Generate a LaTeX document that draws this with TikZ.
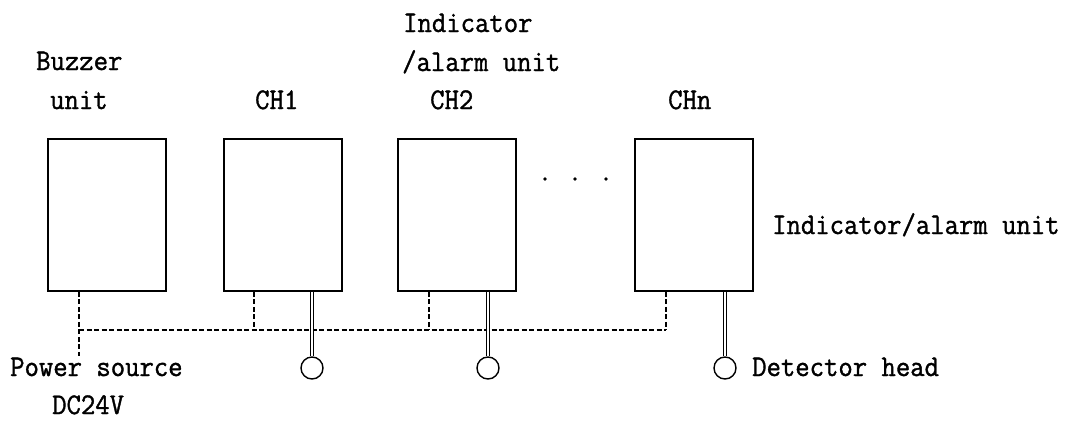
\documentclass[tikz,border=0pt]{standalone}
\usepackage{fontspec}
\newfontfamily\lblfont[FakeStretch=0.93,FakeBold=1.2]{Latin Modern Mono}
\begin{document}
\begin{tikzpicture}[x=1pt,y=-1pt,
  unitbox/.style={draw,line width=1.6pt,minimum width=118pt,minimum height=152pt,inner sep=0pt},
  lbl/.style={anchor=base west,inner sep=0pt,font=\lblfont\fontsize{30}{39}\selectfont},
  bus/.style={line width=1.4pt,dash pattern=on 5pt off 2.5pt},
  stem/.style={draw,line width=1pt,double=white,double distance=1.5pt},
  det/.style={draw,circle,line width=1.4pt,minimum size=22pt,inner sep=0pt}]
\useasboundingbox (0,0) rectangle (1070,421);
% boxes
\node[unitbox] (buz) at (107,215) {};
\node[unitbox] (ch1) at (283,215) {};
\node[unitbox] (ch2) at (457,215) {};
\node[unitbox] (chn) at (694,215) {};
% labels
\node[lbl] (lbuz1) at (36,70) {Buzzer};
\node[lbl] (lbuz2) at (50,109) {unit};
\node[lbl] (lind1) at (403,32) {Indicator};
\node[lbl] (lind2) at (402,71) {/alarm unit};
\node[lbl] (lch1) at (255,109) {CH1};
\node[lbl] (lch2) at (430,109) {CH2};
\node[lbl] (lchn) at (668,109) {CHn};
\node[lbl] (lind3) at (772,234) {Indicator/alarm unit};
% ellipsis
\fill (545,179) circle (1.8) (575,179) circle (1.8) (606,179) circle (1.8);
% bus
\coordinate (b0) at (79,330);
\coordinate (b1) at (254,330);
\coordinate (b2) at (429,330);
\coordinate (bn) at (666,330);
\coordinate (pwr) at (79,356);
\draw[bus] (buz.south -| b0) -- (pwr);
\draw[bus] (b0) -- (bn);
\draw[bus] (ch1.south -| b1) -- (b1);
\draw[bus] (ch2.south -| b2) -- (b2);
\draw[bus] (chn.south -| bn) -- (bn);
\node[lbl] (lpwr1) at (10,376) {Power source};
\node[lbl] (lpwr2) at (52,414) {DC24V};
% detectors
\node[det] (d1) at (312,368) {};
\node[det] (d2) at (488,368) {};
\node[det] (dn) at (725,368) {};
\draw[stem] (ch1.south -| d1) -- (d1.north);
\draw[stem] (ch2.south -| d2) -- (d2.north);
\draw[stem] (chn.south -| dn) -- (dn.north);
\node[lbl] (ldet) at (752,376) {Detector head};
\end{tikzpicture}
\end{document}
